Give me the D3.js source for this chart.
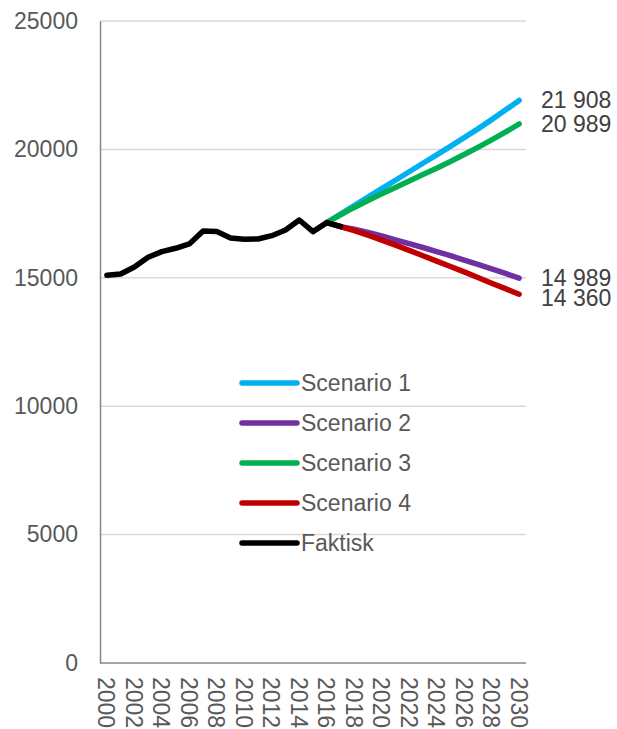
<!DOCTYPE html>
<html>
<head>
<meta charset="utf-8">
<script src="https://cdn.jsdelivr.net/npm/d3@7"></script>
<style>
  body { margin: 0; background: #fff; }
  text { font-family: "Liberation Sans", Arial, sans-serif; }
</style>
</head>
<body>
<div id="chart"></div>
<script>
// years on the category axis
var years = d3.range(2000, 2031)
var yTicks = [0, 5000, 10000, 15000, 20000, 25000]

// actual figures 2000-2017
var faktiskYears = d3.range(2000, 2018)
var faktisk = [15100, 15150, 15420, 15800, 16020, 16150, 16320, 16820, 16800,
  16550, 16500, 16510, 16640, 16860, 17250, 16800, 17150, 17000]

// projections 2016-2030
var scenarioYears = d3.range(2016, 2031)
var scenario1 = [17150, 17480, 17810, 18140, 18470, 18800, 19130, 19460, 19790,
  20120, 20460, 20800, 21160, 21530, 21908]
var scenario2 = [17150, 16990, 16890, 16770, 16630, 16480, 16330, 16180, 16020,
  15860, 15690, 15520, 15350, 15170, 14989]
var scenario3 = [17150, 17450, 17740, 18010, 18270, 18520, 18770, 19020, 19270,
  19530, 19800, 20080, 20370, 20670, 20989]
var scenario4 = [17150, 16990, 16840, 16660, 16470, 16270, 16070, 15860, 15650,
  15440, 15230, 15010, 14790, 14580, 14360]

var seriesNames = ["Scenario 1", "Scenario 2", "Scenario 3", "Scenario 4", "Faktisk"]
var colors = ["#00b0f0", "#7030a0", "#00b050", "#c00000", "#000000"]

var series = [
  { name: seriesNames[0], years: scenarioYears, values: scenario1, color: colors[0], label: true },
  { name: seriesNames[1], years: scenarioYears, values: scenario2, color: colors[1], label: true },
  { name: seriesNames[2], years: scenarioYears, values: scenario3, color: colors[2], label: true },
  { name: seriesNames[3], years: scenarioYears, values: scenario4, color: colors[3], label: true },
  { name: seriesNames[4], years: faktiskYears, values: faktisk, color: colors[4], label: false }
]

var width = 617, height = 729
var plot = { left: 100, right: 526, top: 21, bottom: 663 }

var svg = d3.select("#chart").append("svg")
  .attr("width", width)
  .attr("height", height)

var x = d3.scalePoint().domain(years).range([plot.left, plot.right]).padding(0.5)
var y = d3.scaleLinear().domain([0, 25000]).range([plot.bottom, plot.top])

var fmt = d3.formatLocale({ decimal: ",", thousands: "\u00a0", grouping: [3], currency: ["", ""] }).format(",d")

// gridlines
svg.append("g")
  .selectAll("line")
  .data(yTicks.slice(1))
  .join("line")
  .attr("x1", plot.left)
  .attr("x2", plot.right)
  .attr("y1", d => y(d))
  .attr("y2", d => y(d))
  .attr("stroke", "#d9d9d9")
  .attr("stroke-width", 1.5)

// y axis
var yAxis = svg.append("g")
  .attr("transform", `translate(${plot.left},0)`)
  .call(d3.axisLeft(y).tickValues(yTicks).tickSize(0).tickPadding(22).tickFormat(d3.format("d")))
yAxis.select(".domain").attr("stroke", "#868686").attr("stroke-width", 1.5)
yAxis.selectAll("text")
  .attr("fill", "#595959")
  .style("font-size", "23px")

// x axis
var xAxis = svg.append("g")
  .attr("transform", `translate(0,${plot.bottom})`)
  .call(d3.axisBottom(x).tickValues(years.filter(d => d % 2 == 0)).tickSize(0).tickSizeOuter(0))
xAxis.select(".domain")
  .attr("d", `M${plot.left},0H${plot.right}`)
  .attr("stroke", "#868686")
  .attr("stroke-width", 1.5)
xAxis.selectAll("text")
  .attr("fill", "#595959")
  .style("font-size", "23px")
  .attr("text-anchor", "start")
  .attr("dy", null)
  .attr("y", 0)
  .attr("transform", "translate(-9,14) rotate(90)")

// lines
var line = d3.line()
  .x(d => x(d[0]))
  .y(d => y(d[1]))

svg.append("g")
  .selectAll("path")
  .data(series)
  .join("path")
  .attr("d", d => line(d.years.map((yr, i) => [yr, d.values[i]])))
  .attr("fill", "none")
  .attr("stroke", d => d.color)
  .attr("stroke-width", 5.5)
  .attr("stroke-linejoin", "round")
  .attr("stroke-linecap", "round")

// end labels, pushed apart when they collide (they still touch a bit, as in the original)
var ends = series.filter(d => d.label).map(function (d) {
  var v = d.values[d.values.length - 1]
  return { value: v, pos: y(v) }
}).sort((a, b) => a.pos - b.pos)
for (var i = 1; i < ends.length; i++) {
  if (ends[i].pos - ends[i - 1].pos < 20) ends[i].pos = ends[i - 1].pos + 20
}
svg.append("g")
  .selectAll("text")
  .data(ends)
  .join("text")
  .attr("x", 541)
  .attr("y", d => d.pos)
  .attr("dy", "0.35em")
  .attr("fill", "#404040")
  .style("font-size", "23px")
  .text(d => fmt(d.value))

// legend
var legend = svg.append("g")
  .selectAll("g")
  .data(series)
  .join("g")
  .attr("transform", (d, i) => `translate(242,${383 + i * 40})`)

legend.append("line")
  .attr("x1", 0)
  .attr("x2", 55)
  .attr("stroke", d => d.color)
  .attr("stroke-width", 5.5)
  .attr("stroke-linecap", "round")

legend.append("text")
  .attr("x", 59)
  .attr("dy", "0.35em")
  .attr("fill", "#595959")
  .style("font-size", "23px")
  .text(d => d.name)
</script>
</body>
</html>
